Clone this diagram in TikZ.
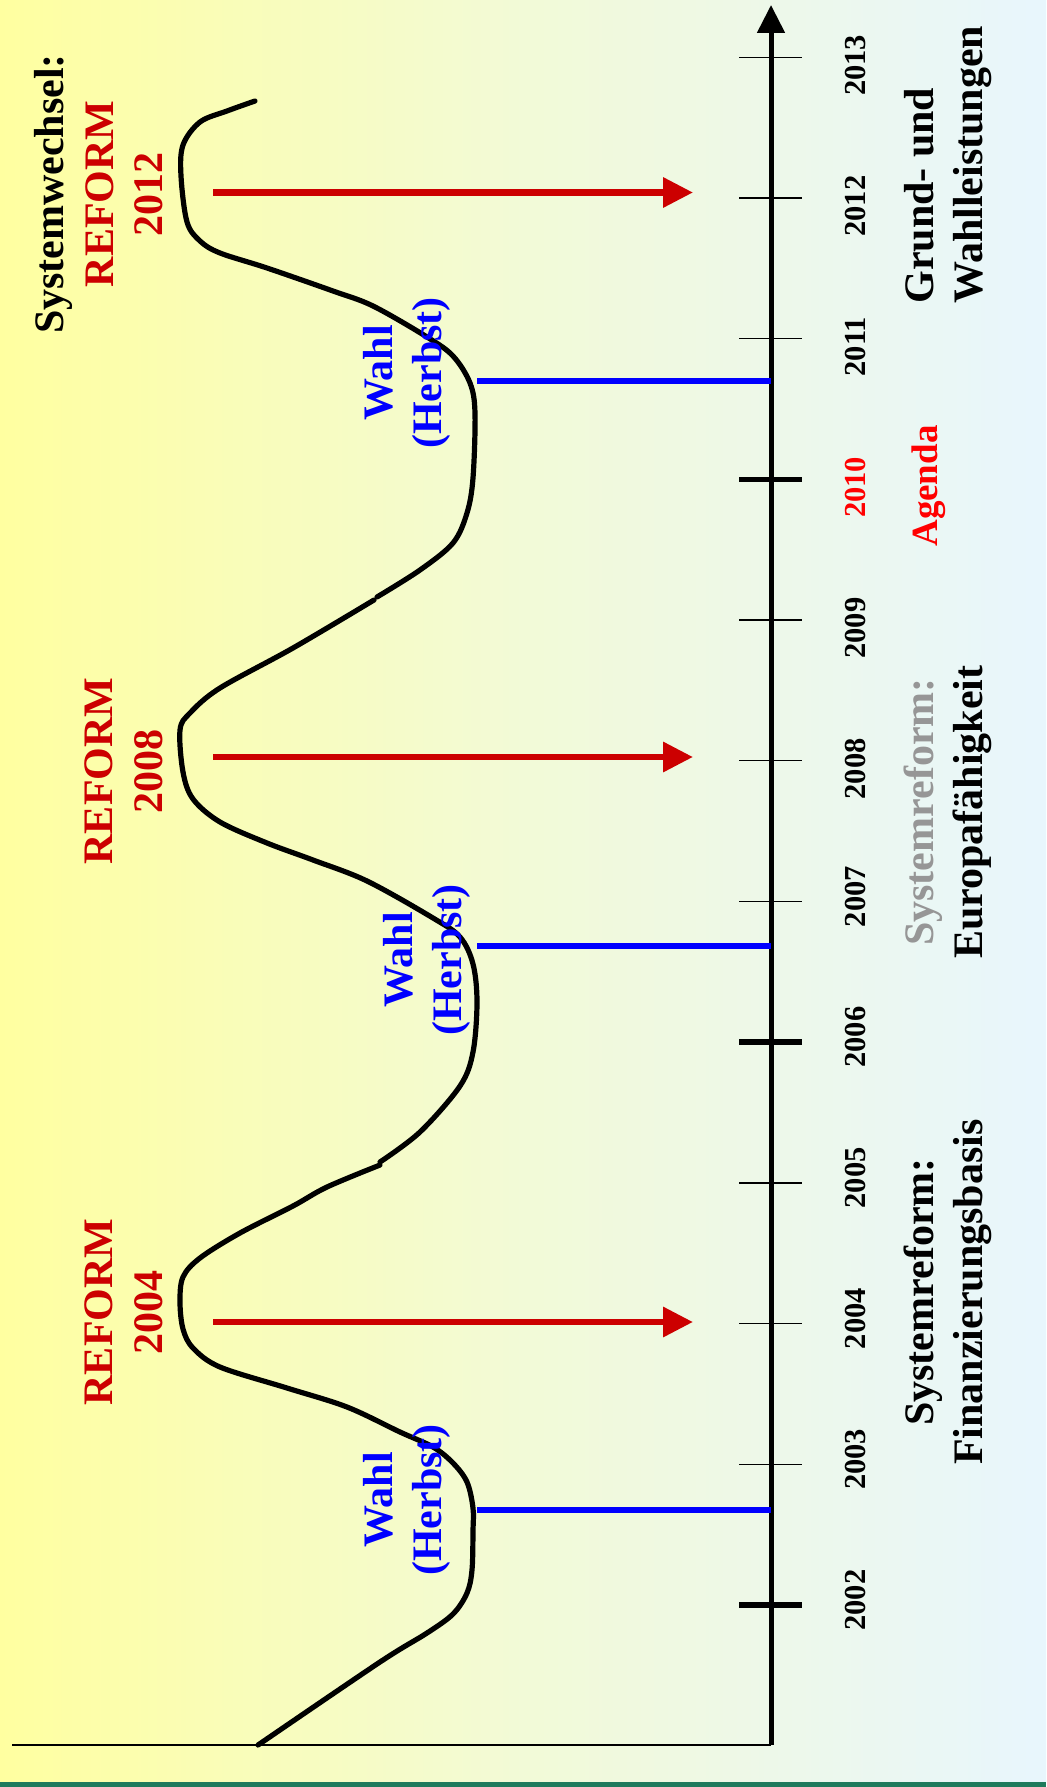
\documentclass[tikz,border=0pt]{standalone}
\usepackage{fontspec}
\setmainfont{Liberation Serif}
\usepackage{tikz}
\usetikzlibrary{arrows.meta}
\definecolor{reformred}{RGB}{204,0,0}
\definecolor{agendared}{RGB}{255,0,0}
\definecolor{wahlblue}{RGB}{0,0,255}
\definecolor{reformgray}{RGB}{150,150,150}
\definecolor{bgyellow}{RGB}{255,255,160}
\definecolor{bgmid}{RGB}{242,250,215}
\definecolor{bgblue}{RGB}{232,246,253}
\definecolor{bandgreen}{RGB}{30,122,92}
\tikzset{>=latex}

\begin{document}
\begin{tikzpicture}[x=0.5pt, y=-0.5pt,
                line cap=round, line join=round,
                axis/.style={black, line width=2.5pt, line cap=butt, -{Triangle[length=14pt,width=13.5pt]}},
                wave/.style={black, line width=2.6pt},
                reform/.style={reformred, line width=3.2pt, line cap=butt, -{Triangle[length=15pt,width=14.5pt]}},
                wahl/.style={wahlblue, line width=2.7pt, line cap=butt},
                lbl/.style={rotate=90, inner sep=0pt, align=center,
                            font=\bfseries\fontsize{21}{24.75}\selectfont},
                yearlbl/.style={rotate=90, inner sep=0pt, anchor=base,
                            font=\bfseries\fontsize{15.25}{18}\selectfont}]
                \def\yTick#1{1605-(#1-2002)*140.7} % year -> y position of its tick

                % background
                \useasboundingbox (0,0) rectangle (1046,1787);
                \shade[left color=bgyellow, right color=bgblue, middle color=bgmid] (0,0) rectangle (1046,1782);
                \fill[bandgreen] (0,1782) rectangle (1046,1787);

                % time axis
                \coordinate (origin) at (771,1745);
                \coordinate (top) at (771,5);
                \draw[line width=0.8pt, line cap=butt] (12,1745) -- (origin);
                \draw[axis] (origin) -- (top);

                % ticks and years
                \foreach \yr [evaluate={\ty=\yTick{\yr};
                              \ly=\ty+(\yr>2007 ? 8 : -5);
                              \tw=(mod(\yr-2002,4)==0 ? 2.8 : 0.65);}]
                in {2002,...,2013}{
                    \draw[line width=\tw pt, line cap=butt] (739,\ty) -- (802,\ty);
                    \ifnum\yr=2010 \def\yc{agendared}\else\def\yc{black}\fi
                    \node[yearlbl, text=\yc] (y\yr) at (865,\ly) {\yr};
                }

                % the wave
                \draw[wave] plot[smooth, tension=0.55] coordinates {
                    (258,1745) (380,1662) (427,1633) (453,1614) (467,1593) (472,1570)
                    (473,1531) (473,1508) (467,1482) (453,1463) (433,1447) (400,1432)
                    (347,1407) (287,1388) (220,1367) (193,1348) (183,1329) (180,1302)
                    (183,1277) (200,1258) (240,1233) (293,1206) (327,1187) (380,1165)};
                \draw[wave] plot[smooth, tension=0.55] coordinates {
                    (380,1162) (420,1132) (460,1086) (473,1052) (477,1002) (473,964)
                    (460,937) (433,918) (367,881) (313,860) (267,843) (220,822)
                    (193,799) (183,772) (180,730) (190,713) (220,688) (293,648) (374,600)};
                \draw[wave] plot[smooth, tension=0.55] coordinates {
                    (377,597) (420,570) (453,543) (467,513) (473,478) (475,413)
                    (470,383) (453,356) (427,337) (373,306) (333,291) (267,268)
                    (220,253) (200,241) (187,222) (181,176) (183,145) (200,122)
                    (227,111) (255,101)};

                % reforms and elections
                \foreach \ry in {192.5,757,1322}{
                    \draw[reform] (213,\ry) -- (693,\ry);
                }
                \foreach \wy in {381,946,1510}{
                    \draw[wahl] (477,\wy) -- (origin |- 0,\wy);
                }

                % labels left
                \node[lbl] (sysw) at (99,194) {Systemwechsel:\\
                    \textcolor{reformred}{REFORM}\\\textcolor{reformred}{2012}};
                \node[lbl, text=reformred] (ref08) at (124,771) {REFORM\\2008};
                \node[lbl, text=reformred] (ref04) at (124,1312) {REFORM\\2004};
                \node[lbl, text=wahlblue] (wahl11) at (407,373) {Wahl\\(Herbst)};
                \node[lbl, text=wahlblue] (wahl07) at (427,960) {Wahl\\(Herbst)};
                \node[lbl, text=wahlblue] (wahl03) at (407,1500) {Wahl\\(Herbst)};

                % labels right
                \node[lbl, anchor=west, align=left] (grund) at (948,304) {Grund- und\\Wahlleistungen};
                \node[lbl, anchor=base, text=agendared, font=\bfseries\fontsize{18.5}{22}\selectfont]
                    (agenda) at (937,486) {Agenda};
                \node[lbl] (europa) at (948,812) {\textcolor{reformgray}{Systemreform:}\\Europafähigkeit};
                \node[lbl] (finanz) at (948,1292) {Systemreform:\\Finanzierungsbasis};

            \end{tikzpicture}
\end{document}
